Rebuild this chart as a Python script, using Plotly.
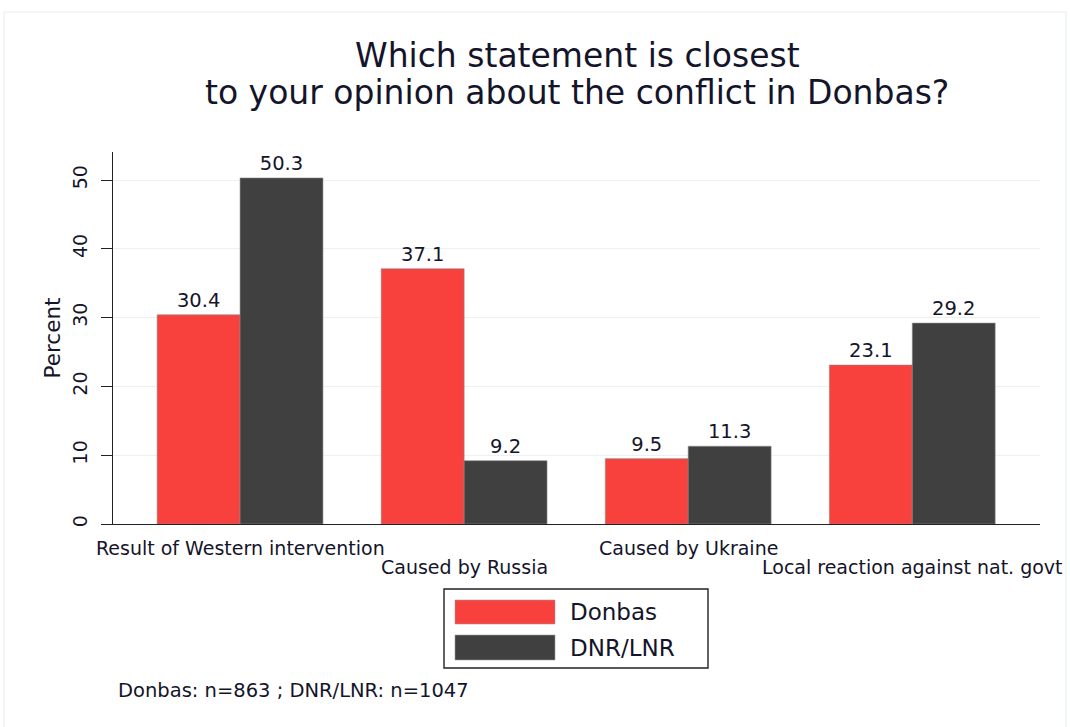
import plotly.graph_objects as go

categories = ["Result of Western intervention", "Caused by Russia", "Caused by Ukraine", "Local reaction against nat. govt"]
series_names = ["Donbas", "DNR/LNR"]
donbas = [30.4, 37.1, 9.5, 23.1]
dnr_lnr = [50.3, 9.2, 11.3, 29.2]
y_ticks = [0, 10, 20, 30, 40, 50]
footnote = "Donbas: n=863 ; DNR/LNR: n=1047"
title_lines = ["Which statement is closest", "to your opinion about the conflict in Donbas?"]

colors = ["#f8403c", "#404040"]
FONT = "DejaVu Sans, Liberation Sans, Arial, sans-serif"
TXT = "#14142a"

W, H = 1070, 727
L, R, T, B = 113, 30, 152, 203
pw, ph = W - L - R, H - T - B

def px(x):
    return (x - L) / pw

def py(y):
    return (H - B - y) / ph

xs = list(range(len(categories)))
fig = go.Figure()
for name, vals, col in zip(series_names, [donbas, dnr_lnr], colors):
    fig.add_trace(go.Bar(
        x=xs, y=vals, name=name, marker=dict(color=col, line=dict(color="#8a8a8a", width=0.6)),
        text=[f"{v:.1f}" for v in vals], textposition="outside", cliponaxis=False,
        textfont=dict(size=19.5, color=TXT, family=FONT), showlegend=False,
    ))

annotations = []
# title as two lines
for line, yc in zip(title_lines, [55, 93]):
    annotations.append(dict(x=px(577), y=py(yc), xref="paper", yref="paper", text=line, showarrow=False,
                            xanchor="center", yanchor="middle", font=dict(size=33, color=TXT, family=FONT)))

# staggered category labels
for i, c in enumerate(categories):
    annotations.append(dict(x=i, y=0, xref="x", yref="y", text=c, showarrow=False,
                            yanchor="middle", yshift=-24 if i % 2 == 0 else -43,
                            font=dict(size=19, color=TXT, family=FONT)))

# custom legend
lx0, lx1, ly0, ly1 = 444, 708, 589, 668
shapes = [dict(type="rect", xref="paper", yref="paper", x0=px(lx0), x1=px(lx1), y0=py(ly1), y1=py(ly0),
               line=dict(color="#222", width=1.4), fillcolor="white")]
sw_rows = [(600, 624), (635, 660)]
for (y0, y1), name, col in zip(sw_rows, series_names, colors):
    shapes.append(dict(type="rect", xref="paper", yref="paper", x0=px(455), x1=px(555),
                       y0=py(y1), y1=py(y0), line=dict(color="#9a9a9a", width=0.6), fillcolor=col))
    annotations.append(dict(x=px(568), y=py((y0 + y1) / 2), xref="paper", yref="paper", text=name,
                            showarrow=False, xanchor="left", yanchor="middle",
                            font=dict(size=23, color=TXT, family=FONT)))

# outer faint border
shapes.append(dict(type="rect", xref="paper", yref="paper", x0=px(4), x1=px(1066), y0=py(740), y1=py(12),
                   line=dict(color="#e3ecee", width=1), layer="below"))

annotations.append(dict(x=px(116), y=py(690), xref="paper", yref="paper", text=footnote, showarrow=False,
                        xanchor="left", yanchor="middle", font=dict(size=19.5, color=TXT, family=FONT)))

fig.update_layout(
    width=W, height=H, margin=dict(l=L, r=R, t=T, b=B),
    paper_bgcolor="white", plot_bgcolor="white",
    barmode="group", bargap=0.26, bargroupgap=0,
    xaxis=dict(range=[-0.567, 3.57], showticklabels=False, ticks="", showgrid=False,
               showline=True, linecolor="#222", linewidth=1.2, zeroline=False),
    yaxis=dict(range=[0, 54.07], tickvals=y_ticks, ticktext=[str(t) for t in y_ticks],
               tickangle=-90, ticks="outside", ticklen=11, tickcolor="#222", tickwidth=1.2,
               ticklabelstandoff=6,
               showline=True, linecolor="#222", linewidth=1.2, showgrid=True, gridcolor="#eaf1f3",
               gridwidth=1, zeroline=False, tickfont=dict(size=19, color=TXT, family=FONT),
               title=dict(text="Percent", font=dict(size=21.5, color=TXT, family=FONT), standoff=2)),
    shapes=shapes, annotations=annotations,
)

fig.write_html("out.html", config={"displayModeBar": False},
               post_script="document.body.style.margin='0px';")
